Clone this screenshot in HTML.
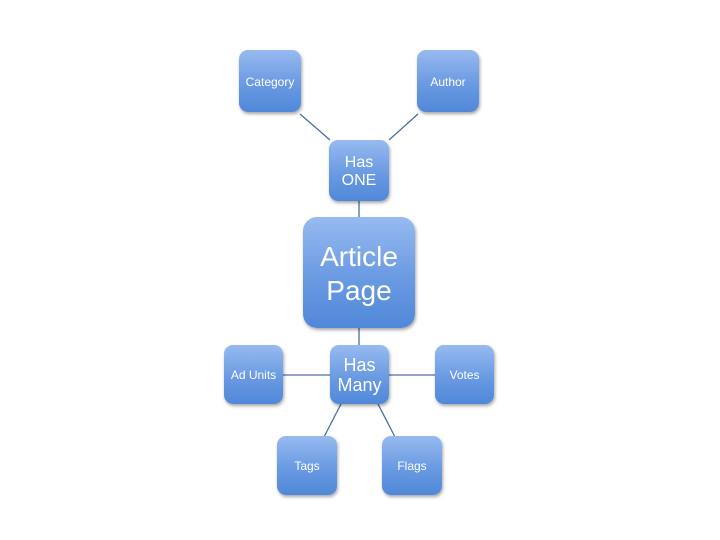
<!DOCTYPE html>
<html><head><meta charset="utf-8"><style>
body{margin:0;width:720px;height:540px;background:#fff;position:relative;overflow:hidden;font-family:"Liberation Sans","DejaVu Sans",sans-serif}
.b{position:absolute;box-sizing:border-box;padding-top:3px;border-radius:9px;background:linear-gradient(#97baf0,#6a9ae2 55%,#5088d8);box-shadow:1px 2px 3px rgba(0,0,0,.35);color:#fff;display:flex;align-items:center;justify-content:center;text-align:center;font-size:12px;line-height:1.15}
svg{position:absolute;left:0;top:0}
</style></head><body>
<svg width="720" height="540"><g stroke="#4a6ea8" stroke-width="1.3">
<line x1="300" y1="114" x2="330" y2="140"/>
<line x1="418" y1="114" x2="389" y2="140"/>
<line x1="359" y1="201" x2="359" y2="218"/>
<line x1="359" y1="328" x2="359" y2="345"/>
<line x1="283" y1="375" x2="330" y2="375"/>
<line x1="388" y1="375" x2="435" y2="375"/>
<line x1="341" y1="404" x2="324" y2="437"/>
<line x1="378" y1="404" x2="395" y2="437"/>
</g></svg>
<div class="b" style="left:239px;top:50px;width:62px;height:62px">Category</div>
<div class="b" style="left:417px;top:50px;width:62px;height:62px">Author</div>
<div class="b" style="left:329px;top:140px;width:60px;height:61px;font-size:16px">Has<br>ONE</div>
<div class="b" style="left:303px;top:217px;width:112px;height:111px;border-radius:14px;font-size:28px;line-height:1.2">Article<br>Page</div>
<div class="b" style="left:330px;top:345px;width:59px;height:59px;font-size:18px;line-height:1.1">Has<br>Many</div>
<div class="b" style="left:224px;top:345px;width:59px;height:59px">Ad Units</div>
<div class="b" style="left:435px;top:345px;width:59px;height:59px">Votes</div>
<div class="b" style="left:277px;top:436px;width:60px;height:59px">Tags</div>
<div class="b" style="left:382px;top:436px;width:60px;height:59px">Flags</div>
</body></html>
